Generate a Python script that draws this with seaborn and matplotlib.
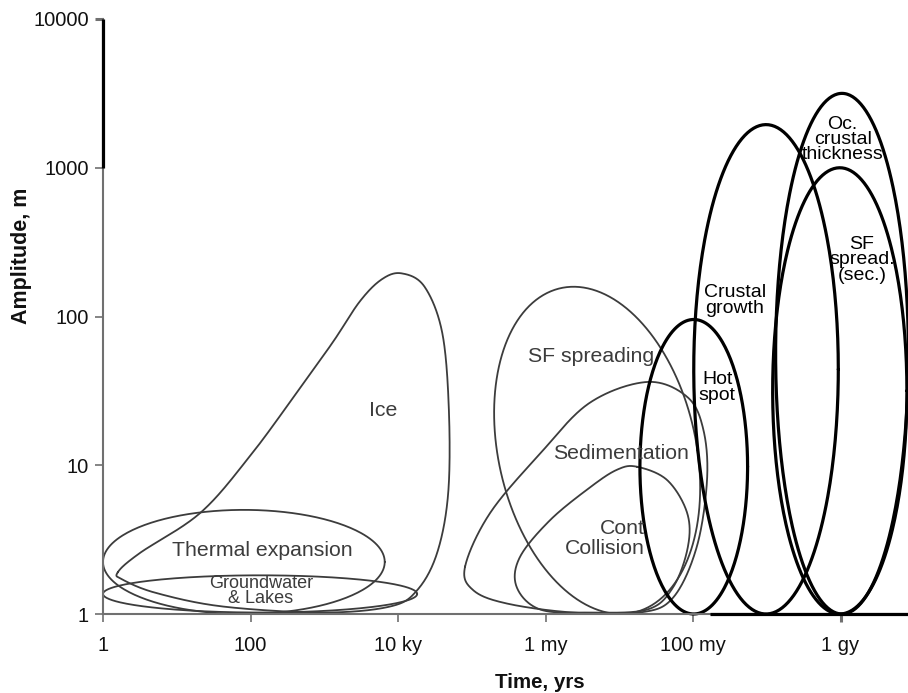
import numpy as np
import pandas as pd
import seaborn as sns
import matplotlib.pyplot as plt

# outlines of the thin (gray) fields, in decades: log10(years), log10(metres)
ice_t = [0.20, 0.50, 1.32, 1.99, 2.63, 3.12, 3.48, 3.78, 4.05, 4.36, 4.60, 4.69, 4.68, 4.53, 4.26, 3.89, 2.98, 1.63, 0.73, 0.27]
ice_a = [0.28, 0.41, 0.68, 1.06, 1.49, 1.83, 2.10, 2.25, 2.29, 2.20, 1.89, 1.37, 0.81, 0.41, 0.16, 0.05, 0.01, 0.05, 0.14, 0.23]

sed_t = [4.91, 5.25, 5.93, 6.60, 7.38, 7.92, 8.14, 8.19, 8.05, 7.73, 7.28, 6.37, 5.48, 5.02]
sed_a = [0.32, 0.68, 1.08, 1.42, 1.56, 1.46, 1.24, 0.90, 0.45, 0.11, 0.01, 0.01, 0.07, 0.16]

coll_t = [7.24, 7.65, 7.92, 7.93, 7.73, 7.38, 6.60, 5.93, 5.61, 5.65, 6.06, 6.60, 6.97]
coll_a = [0.99, 0.90, 0.68, 0.45, 0.18, 0.03, 0.01, 0.03, 0.18, 0.38, 0.63, 0.85, 0.97]

# elliptical fields: centre, half-size and lean, in decades
ell_names = ["SF spreading", "Thermal expansion", "Groundwater", "Hot spot",
             "Crustal growth", "Oc. crustal", "SF spread. (sec.)"]
ell_ct = [6.70, 1.91, 2.13, 8.01, 8.99, 10.02, 9.99]
ell_ca = [1.10, 0.35, 0.135, 0.99, 1.645, 1.75, 1.50]
ell_wt = [1.36, 1.91, 2.13, 0.73, 0.98, 0.90, 0.91]
ell_wa = [1.10, 0.35, 0.125, 0.99, 1.645, 1.75, 1.50]
ell_lean = [-0.29, 0, 0, 0, 0, 0, 0]
ell_bold = [False, False, False, True, True, True, True]

x_ticks = [1, 1e2, 1e4, 1e6, 1e8, 1e10]
x_labels = ["1", "100", "10 ky", "1 my", "100 my", "1 gy"]
y_ticks = [1, 10, 100, 1000, 10000]
y_labels = ["1", "10", "100", "1000", "10000"]

GRAY = "#3c3c3c"


def closed_spline(px, py, n=40):
    p = np.column_stack([px, py])
    m = len(p)
    out = []
    for i in range(m):
        p0, p1, p2, p3 = p[i - 1], p[i], p[(i + 1) % m], p[(i + 2) % m]
        t = np.linspace(0, 1, n, endpoint=False)[:, None]
        out.append(0.5 * ((2 * p1) + (-p0 + p2) * t
                          + (2 * p0 - 5 * p1 + 4 * p2 - p3) * t ** 2
                          + (-p0 + 3 * p1 - 3 * p2 + p3) * t ** 3))
    out = np.vstack(out + [out[0][:1]])
    return 10 ** out[:, 0], 10 ** out[:, 1]


def ellipse(ct, ca, wt, wa, lean, n=300):
    th = np.linspace(0, 2 * np.pi, n)
    return (10 ** (ct + wt * np.cos(th) + lean * wa * np.sin(th)),
            10 ** (ca + wa * np.sin(th)))


sns.set_style("ticks")
plt.rcParams['font.family'] = ['Liberation Sans', 'DejaVu Sans']

fig = plt.figure(figsize=(9.08, 6.93), dpi=100)
ax = fig.add_axes([103 / 908, 79 / 693, 805 / 908, 595 / 693])
ax.set_xscale("log")
ax.set_yscale("log")

for xs, ys in [(ice_t, ice_a), (sed_t, sed_a), (coll_t, coll_a)]:
    cx, cy = closed_spline(xs, ys)
    df = pd.DataFrame({"t": cx, "a": cy})
    sns.lineplot(data=df, x="t", y="a", sort=False, estimator=None, ax=ax,
                 color=GRAY, lw=1.3, clip_on=False)

for ct, ca, wt, wa, lean, bold in zip(ell_ct, ell_ca, ell_wt, ell_wa, ell_lean, ell_bold):
    cx, cy = ellipse(ct, ca, wt, wa, lean)
    df = pd.DataFrame({"t": cx, "a": cy})
    sns.lineplot(data=df, x="t", y="a", sort=False, estimator=None, ax=ax,
                 color="black" if bold else GRAY, lw=2.3 if bold else 1.3,
                 clip_on=False)

ax.set_xlim(1, 10 ** 10.915)
ax.set_ylim(1, 10 ** 4.0)
ax.set_xticks(x_ticks)
ax.set_xticklabels(x_labels)
ax.set_yticks(y_ticks)
ax.set_yticklabels(y_labels)
ax.minorticks_off()
ax.tick_params(axis="both", direction="out", length=6, width=1.2, color="#707070",
               labelsize=14.5, labelcolor="#111111")
ax.tick_params(axis="x", pad=10)
ax.tick_params(axis="y", pad=4)
for tk in [ax.xaxis.get_major_ticks()[-1], ax.yaxis.get_major_ticks()[-1]]:
    tk.tick1line.set_color("black")
    tk.tick1line.set_markeredgewidth(2.2)
for s in ["top", "right"]:
    ax.spines[s].set_visible(False)
ax.spines["left"].set_color("#707070")
ax.spines["bottom"].set_color("#707070")
ax.spines["left"].set_linewidth(1.5)
ax.spines["bottom"].set_linewidth(1.5)
# heavier parts of the axis lines
ax.plot([1, 1], [y_ticks[3], y_ticks[4]], color="black", lw=2.3, clip_on=False,
        solid_capstyle="butt", zorder=3)
ax.plot([10 ** 8.23, 10 ** 10.915], [1, 1], color="black", lw=2.3, clip_on=False,
        solid_capstyle="butt", zorder=3)

ax.set_xlabel("")
ax.set_ylabel("")
fig.text(540 / 908, 1 - 682 / 693, "Time, yrs", fontsize=14.8, fontweight="bold",
         ha="center", va="center", color="#111111")
fig.text(22 / 908, 1 - 256 / 693, "Amplitude, m", fontsize=15.5, fontweight="bold",
         ha="center", va="center", rotation=90, color="#111111")


def lab(x, y, s, size=15.3, color=GRAY, ls=1.0, **kw):
    kw.setdefault("ha", "center")
    ax.text(10 ** x, 10 ** y, s, fontsize=size, color=color, va="center",
            linespacing=ls, **kw)


lab(3.80, 1.37, "Ice")
lab(2.16, 0.43, "Thermal expansion")
lab(2.14, 0.155, "Groundwater\n& Lakes", size=13, ls=0.82)
lab(6.62, 1.73, "SF spreading")
lab(7.02, 1.08, "Sedimentation")
lab(7.35, 0.51, "Cont\nCollision", ls=1.05, ha="right", multialignment="right")
lab(8.33, 1.52, "Hot\nspot", size=14, color="black", ls=0.92)
lab(8.57, 2.11, "Crustal\ngrowth", size=14, color="black", ls=0.92)
lab(10.03, 3.19, "Oc.\ncrustal\nthickness", size=14, color="black", ls=0.82)
lab(10.29, 2.38, "SF\nspread.\n(sec.)", size=14, color="black", ls=0.88)

plt.savefig("out.png", dpi=100)
plt.close()
